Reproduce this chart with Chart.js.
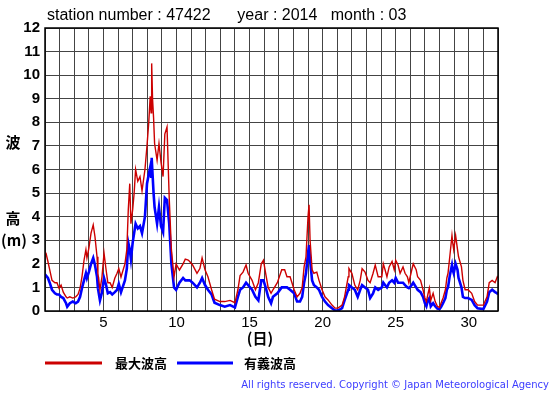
<!DOCTYPE html>
<html>
<head>
<meta charset="utf-8">
<script src="https://cdn.jsdelivr.net/npm/chart.js@4"></script>
<style>
  html, body { margin: 0; padding: 0; background: #fff; }
  canvas { display: block; }
</style>
</head>
<body>
<canvas id="wave" width="555" height="395"></canvas>
<script>
// time in days (1 = start of the 1st)
var days = [1.0, 1.07, 1.2, 1.32, 1.48, 1.68, 1.82, 1.96, 2.1, 2.25, 2.44, 2.52, 2.7, 2.9, 3.1, 3.26, 3.4, 3.53, 3.67, 3.8,
  3.87, 4.0, 4.15, 4.3, 4.42, 4.56, 4.62, 4.76, 4.9, 5.04, 5.18, 5.3, 5.45, 5.6, 5.78, 5.93, 6.05, 6.2, 6.47, 6.6,
  6.7, 6.8, 6.88, 7.0, 7.1, 7.2, 7.35, 7.5, 7.64, 7.84, 7.98, 8.1, 8.2, 8.26, 8.3, 8.36, 8.43, 8.5, 8.67, 8.8,
  8.94, 9.08, 9.2, 9.35, 9.5, 9.65, 9.83, 9.97, 10.2, 10.45, 10.6, 10.8, 10.9, 11.1, 11.4, 11.6, 11.75, 11.95, 12.15, 12.4,
  12.6, 12.97, 13.3, 13.66, 14.0, 14.2, 14.35, 14.55, 14.76, 14.9, 15.17, 15.4, 15.6, 15.8, 15.95, 16.1, 16.27, 16.47, 16.6, 16.9,
  17.2, 17.4, 17.56, 17.77, 18.05, 18.25, 18.45, 18.6, 18.73, 18.86, 19.0, 19.07, 19.14, 19.28, 19.4, 19.6, 19.75, 19.96, 20.16, 20.37,
  20.64, 20.85, 21.05, 21.33, 21.5, 21.75, 21.8, 22.0, 22.2, 22.4, 22.57, 22.7, 22.9, 23.1, 23.25, 23.45, 23.6, 23.8, 24.05, 24.15,
  24.27, 24.4, 24.55, 24.75, 24.9, 25.0, 25.16, 25.3, 25.5, 25.64, 25.8, 25.9, 26.1, 26.2, 26.4, 26.5, 26.7, 26.87, 27.0, 27.1,
  27.2, 27.3, 27.4, 27.56, 27.7, 27.85, 28.0, 28.1, 28.24, 28.4, 28.5, 28.58, 28.7, 28.85, 28.9, 28.97, 29.1, 29.23, 29.3, 29.5,
  29.6, 29.75, 29.95, 30.2, 30.4, 30.6, 31.0, 31.25, 31.4, 31.6, 31.8, 31.95, 32.0];

// 最大波高 (m)
var maxWave = [2.5, 2.45, 2.1, 1.75, 1.3, 1.2, 1.2, 0.97, 1.1, 0.8, 0.6, 0.55, 0.6, 0.55, 0.6, 0.7, 0.97, 1.45, 2.15, 2.6,
  2.25, 2.65, 3.3, 3.65, 3.15, 2.3, 1.6, 0.9, 1.45, 2.45, 1.75, 1.2, 1.2, 1.0, 1.4, 1.6, 1.8, 1.44, 2.0, 2.6,
  4.3, 5.4, 3.7, 4.3, 5.0, 6.0, 5.5, 5.7, 5.1, 6.0, 7.0, 8.0, 9.1, 8.4, 10.5, 9.0, 8.2, 7.1, 6.4, 7.1,
  6.3, 5.7, 7.5, 7.8, 4.8, 2.6, 1.44, 2.0, 1.74, 2.0, 2.2, 2.16, 2.1, 1.95, 1.6, 1.8, 2.25, 1.75, 1.45, 0.9,
  0.5, 0.4, 0.4, 0.45, 0.35, 0.9, 1.5, 1.65, 1.95, 1.6, 1.3, 0.9, 1.2, 2.0, 2.15, 1.6, 1.0, 0.75, 0.9, 1.2,
  1.75, 1.75, 1.45, 1.45, 0.9, 0.6, 0.75, 1.0, 1.87, 2.3, 4.0, 4.5, 3.0, 1.75, 1.6, 1.65, 1.3, 0.9, 0.6, 0.47,
  0.25, 0.12, 0.12, 0.25, 0.6, 1.45, 1.8, 1.6, 1.1, 0.9, 1.3, 1.8, 1.65, 1.3, 1.2, 1.6, 1.95, 1.45, 1.45, 2.0,
  1.75, 1.45, 1.87, 2.1, 1.75, 2.15, 1.95, 1.6, 1.87, 1.6, 1.45, 1.2, 1.75, 2.0, 1.75, 1.45, 1.3, 0.9, 0.55, 0.4,
  0.7, 0.97, 0.45, 0.75, 0.4, 0.2, 0.15, 0.33, 0.55, 0.9, 1.4, 1.6, 2.3, 3.2, 2.9, 2.6, 3.2, 2.6, 2.3, 1.87,
  1.3, 0.9, 0.9, 0.75, 0.4, 0.25, 0.25, 0.6, 1.2, 1.3, 1.2, 1.45, 1.4];

// 有義波高 (m)
var sigWave = [1.55, 1.5, 1.4, 1.2, 0.9, 0.75, 0.7, 0.7, 0.6, 0.55, 0.33, 0.18, 0.33, 0.4, 0.33, 0.4, 0.6, 0.97, 1.3, 1.6,
  1.4, 1.65, 2.0, 2.25, 1.95, 1.45, 0.97, 0.45, 0.8, 1.4, 1.1, 0.75, 0.8, 0.7, 0.8, 0.9, 1.15, 0.8, 1.3, 1.8,
  2.9, 2.6, 2.2, 2.9, 3.3, 3.7, 3.5, 3.6, 3.3, 4.0, 5.4, 5.8, 6.1, 5.7, 6.5, 5.8, 5.0, 4.4, 3.7, 4.4,
  3.6, 3.35, 4.8, 4.7, 3.7, 2.0, 1.0, 0.9, 1.2, 1.4, 1.3, 1.3, 1.3, 1.2, 1.0, 1.2, 1.4, 1.1, 0.9, 0.7,
  0.35, 0.25, 0.18, 0.25, 0.15, 0.6, 0.9, 1.0, 1.2, 1.1, 0.9, 0.6, 0.45, 1.3, 1.3, 1.0, 0.6, 0.33, 0.6, 0.75,
  1.0, 1.0, 1.0, 0.9, 0.75, 0.4, 0.4, 0.6, 1.2, 1.6, 2.45, 2.8, 2.15, 1.3, 1.1, 1.0, 0.9, 0.6, 0.4, 0.25,
  0.12, 0.02, 0.02, 0.12, 0.45, 0.9, 1.1, 1.0, 0.9, 0.6, 0.9, 1.1, 1.0, 0.9, 0.55, 0.75, 1.0, 0.9, 1.0, 1.2,
  1.1, 1.0, 1.2, 1.3, 1.2, 1.4, 1.2, 1.2, 1.2, 1.1, 1.0, 0.97, 1.1, 1.2, 1.0, 0.9, 0.8, 0.6, 0.33, 0.2,
  0.45, 0.55, 0.2, 0.33, 0.2, 0.1, 0.08, 0.17, 0.33, 0.55, 0.9, 1.0, 1.5, 1.95, 1.75, 1.6, 2.0, 1.75, 1.4, 1.0,
  0.6, 0.55, 0.55, 0.47, 0.25, 0.12, 0.08, 0.4, 0.8, 0.9, 0.8, 0.75, 0.7];

var dayTicks = [5, 10, 15, 20, 25, 30];
var legendNames = ['最大波高', '有義波高'];
var titleText = 'station number : 47422      year : 2014   month : 03';

function pairs(vals) {
  return vals.map(function (v, i) { return { x: days[i], y: v }; });
}

var extras = {
  id: 'extras',
  afterDraw: function (chart) {
    var c = chart.ctx;
    c.save();
    c.fillStyle = '#000';
    c.textBaseline = 'middle';
    c.textAlign = 'left';
    c.font = '16px "Liberation Sans", Arial, sans-serif';
    c.fillText(titleText, 47, 16);

    c.font = 'bold 15px "Noto Sans CJK JP", sans-serif';
    c.textAlign = 'center';
    c.fillText('波', 13, 142);
    c.fillText('高', 13, 218);
    c.fillText('(m)', 14, 240);
    c.fillText('(日)', 260, 338);

    // legend
    c.lineWidth = 3;
    c.strokeStyle = '#cc0000';
    c.beginPath(); c.moveTo(45, 363); c.lineTo(102, 363); c.stroke();
    c.strokeStyle = '#0000ff';
    c.beginPath(); c.moveTo(177, 363); c.lineTo(233, 363); c.stroke();
    c.font = 'bold 13px "Noto Sans CJK JP", sans-serif';
    c.textAlign = 'left';
    c.fillText(legendNames[0], 115, 363);
    c.fillText(legendNames[1], 244, 363);

    c.fillStyle = '#3c3cff';
    c.font = '10px "DejaVu Sans", sans-serif';
    c.textAlign = 'right';
    c.fillText('All rights reserved. Copyright © Japan Meteorological Agency', 549, 385);

    var a = chart.chartArea;
    c.strokeStyle = '#000';
    c.lineWidth = 1.5;
    c.strokeRect(a.left, a.top, a.right - a.left, a.bottom - a.top);
    c.restore();
  }
};

new Chart(document.getElementById('wave'), {
  type: 'line',
  data: {
    datasets: [{
      label: legendNames[0],
      data: pairs(maxWave),
      borderColor: '#cc0000',
      borderWidth: 1.4,
      pointRadius: 0,
      tension: 0
    }, {
      label: legendNames[1],
      data: pairs(sigWave),
      borderColor: '#0000ff',
      borderWidth: 2.6,
      pointRadius: 0,
      tension: 0
    }]
  },
  options: {
    responsive: false,
    animation: false,
    events: [],
    layout: { padding: { top: 28, right: 57, left: 0, bottom: 0 } },
    plugins: { legend: { display: false }, tooltip: { enabled: false } },
    scales: {
      x: {
        type: 'linear',
        min: 1,
        max: 32,
        afterFit: function (s) { s.height = 84; },
        afterBuildTicks: function (s) {
          var t = [];
          for (var d = 1; d <= 32; d++) t.push({ value: d });
          s.ticks = t;
        },
        grid: { color: '#444', lineWidth: 1, drawTicks: false },
        border: { display: false },
        ticks: {
          autoSkip: false,
          maxRotation: 0,
          padding: 3,
          color: '#000',
          font: { family: '"Liberation Sans", Arial, sans-serif', size: 15 },
          callback: function (v) { return dayTicks.indexOf(v) >= 0 ? String(v) : ''; }
        }
      },
      y: {
        min: 0,
        max: 12,
        afterFit: function (s) { s.width = 45; },
        grid: { color: '#444', lineWidth: 1, drawTicks: false },
        border: { display: false },
        ticks: {
          stepSize: 1,
          padding: 5,
          color: '#000',
          font: { family: '"Liberation Sans", Arial, sans-serif', size: 15, weight: 'bold' }
        }
      }
    }
  },
  plugins: [extras]
});
</script>
</body>
</html>
